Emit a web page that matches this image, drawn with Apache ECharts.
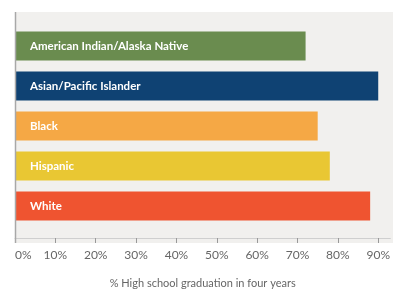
<!DOCTYPE html>
<html>
<head>
<meta charset="utf-8">
<script src="https://cdn.jsdelivr.net/npm/echarts@6/dist/echarts.min.js"></script>
<style>
html,body{margin:0;padding:0;background:#fff;}
#c{width:393px;height:294px;}
</style>
</head>
<body>
<div id="c"></div>
<script>
const categories = ['American Indian/Alaska Native', 'Asian/Pacific Islander', 'Black', 'Hispanic', 'White'];
const values = [72, 90, 75, 78, 88];
const barColors = ['#6a8c4f', '#0f4273', '#f5a845', '#e9c733', '#ef5430'];
const tickValues = [0, 10, 20, 30, 40, 50, 60, 70, 80, 90];
const axisTitle = '% High school graduation in four years';

const chart = echarts.init(document.getElementById('c'), null, {renderer: 'canvas'});
chart.setOption({
  animation: false,
  backgroundColor: '#ffffff',
  textStyle: {fontFamily: 'Lato'},
  graphic: [
    {type: 'rect', z: -10, shape: {x: 15, y: 12, width: 378, height: 231}, style: {fill: '#f1f0ee'}},
    {type: 'line', z: 10, shape: {x1: 15.5, y1: 12, x2: 15.5, y2: 243}, style: {stroke: '#a8a8a8', lineWidth: 1.5}}
  ],
  grid: {left: 15, right: 0, top: 26, height: 205, containLabel: false},
  xAxis: {
    type: 'value',
    min: 0,
    max: 93,
    interval: 10,
    offset: 12,
    axisLine: {show: true, lineStyle: {color: '#cfcfcf', width: 1}},
    axisTick: {show: true, length: 5, lineStyle: {color: '#999'}},
    splitLine: {show: false},
    axisLabel: {
      color: '#666',
      fontSize: 12,
      fontFamily: 'Lato',
      margin: 11,
      alignMinLabel: 'left',
      showMaxLabel: false,
      formatter: function (v) { return tickValues.indexOf(v) >= 0 ? v + '%' : ''; }
    },
    name: axisTitle,
    nameLocation: 'middle',
    nameGap: 40,
    nameTextStyle: {color: '#666', fontSize: 11, fontFamily: 'Lato'}
  },
  yAxis: {
    type: 'category',
    data: categories,
    inverse: true,
    axisLine: {show: false},
    axisTick: {show: false},
    axisLabel: {show: false},
    splitLine: {show: false}
  },
  series: [{
    type: 'bar',
    barWidth: 29,
    data: values.map((v, i) => ({value: v, itemStyle: {color: barColors[i]}})),
    label: {
      show: true,
      position: 'insideLeft',
      distance: 15,
      formatter: function (p) { return categories[p.dataIndex]; },
      color: '#ffffff',
      fontSize: 11.5,
      fontWeight: 'bold',
      fontFamily: 'Lato'
    }
  }]
});
</script>
</body>
</html>
